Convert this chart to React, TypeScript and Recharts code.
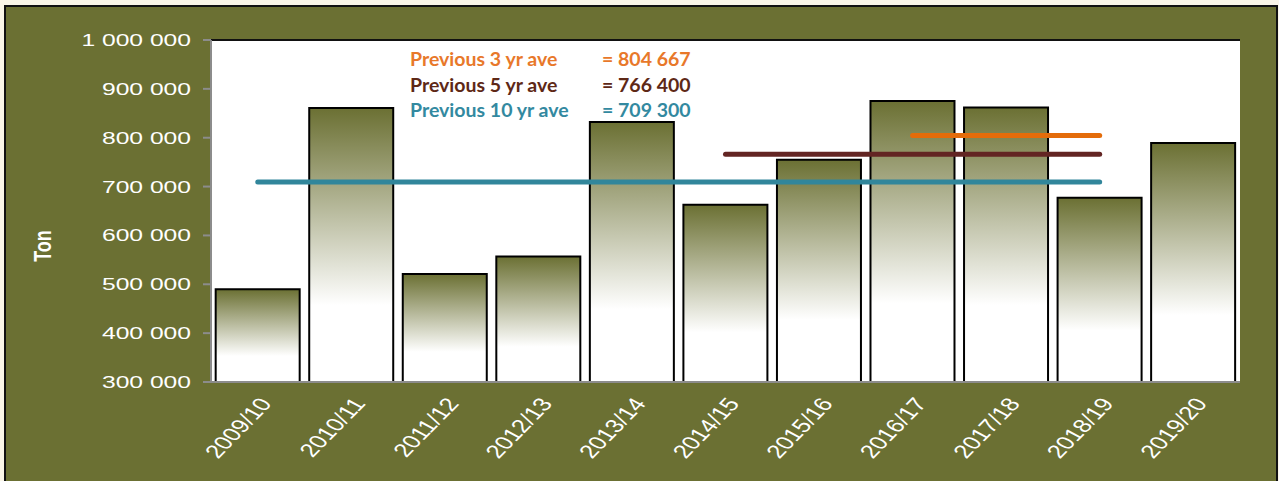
import {
  Bar,
  BarChart,
  CartesianGrid,
  Line,
  ReferenceLine,
  XAxis,
  YAxis,
} from "recharts";

const seasons = [
  "2009/10",
  "2010/11",
  "2011/12",
  "2012/13",
  "2013/14",
  "2014/15",
  "2015/16",
  "2016/17",
  "2017/18",
  "2018/19",
  "2019/20",
];
const tons = [
  490000, 861000, 521000, 557000, 832000, 663000, 755000, 875000, 862000,
  677000, 789000,
];
const avg10 = [709300, 709300, 709300, 709300, 709300, 709300, 709300, 709300, 709300, 709300, null];
const avg5 = [null, null, null, null, null, 766400, 766400, 766400, 766400, 766400, null];
const avg3 = [null, null, null, null, null, null, null, 804667, 804667, 804667, null];
const yTicks = [300000, 400000, 500000, 600000, 700000, 800000, 900000, 1000000];

const legendRows = [
  { label: "Previous 3 yr ave", value: "= 804 667", color: "#e8782a" },
  { label: "Previous 5 yr ave", value: "= 766 400", color: "#5e2816" },
  { label: "Previous 10 yr ave", value: "= 709 300", color: "#3389a0" },
];

const data = seasons.map((s, i) => ({
  season: s,
  tons: tons[i],
  avg10: avg10[i],
  avg5: avg5[i],
  avg3: avg3[i],
}));

const OLIVE = "#6b7033";
const STRETCH = 1.36;

const fmt = (v: number) => String(v).replace(/\B(?=(\d{3})+(?!\d))/g, " ");

const YTick = ({ x, y, payload }: any) => (
  <g transform={`translate(${x - 10},${y + 6})`}>
    <text
      transform="scale(1.45,1)"
      textAnchor="end"
      fill="#fff"
      fontSize={17}
      fontFamily="Liberation Sans, Arial, sans-serif"
    >
      {fmt(payload.value)}
    </text>
  </g>
);

const XTick = ({ x, y, payload }: any) => (
  <g transform={`translate(${x + 15},${y + 14})`}>
    <text
      transform={`scale(${STRETCH},1) rotate(-54)`}
      textAnchor="end"
      fill="#fff"
      fontSize={19}
      fontFamily="Liberation Sans, Arial, sans-serif"
    >
      {payload.value}
    </text>
  </g>
);

const TonLabel = ({ viewBox }: any) => (
  <g transform={`translate(${viewBox.x - 80},${viewBox.y + viewBox.height / 2 + 35})`}>
    <text
      transform={`scale(${STRETCH},1) rotate(-90)`}
      textAnchor="middle"
      fill="#fff"
      fontSize={18}
      fontWeight="bold"
      fontFamily="Liberation Sans, Arial, sans-serif"
    >
      Ton
    </text>
  </g>
);

export default function App() {
  return (
    <div
      style={{
        position: "absolute",
        left: 0,
        top: 0,
        width: 1279,
        height: 481,
        background: "#faf6e8",
        overflow: "hidden",
      }}
    >
      <div
        style={{
          position: "absolute",
          left: 4,
          top: 5,
          width: 1270,
          height: 480,
          background: OLIVE,
          borderLeft: "2px solid #111",
          borderTop: "2px solid #111",
          borderRight: "2px solid #111",
        }}
      />
      <div style={{ position: "absolute", left: 0, top: 0 }}>
        <BarChart
          width={1279}
          height={481}
          data={data}
          margin={{ top: 40, right: 39, bottom: 9, left: 131 }}
          barCategoryGap="5%"
        >
          <defs>
            <linearGradient id="barFill" x1="0" y1="0" x2="0" y2="1">
              <stop offset="0" stopColor={OLIVE} />
              <stop offset="0.72" stopColor="#ffffff" />
              <stop offset="1" stopColor="#ffffff" />
            </linearGradient>
          </defs>
          <CartesianGrid fill="#ffffff" horizontal={false} vertical={false} yAxisId="left" />
          <XAxis
            dataKey="season"
            height={90}
            interval={0}
            tickLine={false}
            axisLine={{ stroke: "#8c8c8c", strokeWidth: 2 }}
            tick={<XTick />}
          />
          <YAxis
            yAxisId="left"
            width={80}
            domain={[300000, 1000000]}
            ticks={yTicks}
            allowDataOverflow
            tickSize={8}
            tickLine={{ stroke: "#8c8c8c", strokeWidth: 2 }}
            axisLine={{ stroke: "#8c8c8c", strokeWidth: 2 }}
            tick={<YTick />}
            label={<TonLabel />}
          />
          <YAxis
            yAxisId="right"
            orientation="right"
            width={0}
            tick={false}
            tickLine={false}
            axisLine={{ stroke: "#111", strokeWidth: 2 }}
          />
          <ReferenceLine yAxisId="left" y={1000000} stroke="#111" strokeWidth={2} />
          <Bar
            yAxisId="left"
            dataKey="tons"
            fill="url(#barFill)"
            stroke="#000"
            strokeWidth={2}
            isAnimationActive={false}
          />
          <Line
            yAxisId="left"
            dataKey="avg10"
            stroke="#31869b"
            strokeWidth={5}
            strokeLinecap="round"
            dot={false}
            activeDot={false}
            isAnimationActive={false}
          />
          <Line
            yAxisId="left"
            dataKey="avg5"
            stroke="#632523"
            strokeWidth={5}
            strokeLinecap="round"
            dot={false}
            activeDot={false}
            isAnimationActive={false}
          />
          <Line
            yAxisId="left"
            dataKey="avg3"
            stroke="#e46c0a"
            strokeWidth={5}
            strokeLinecap="round"
            dot={false}
            activeDot={false}
            isAnimationActive={false}
          />
        </BarChart>
      </div>
      {legendRows.map((r, i) => (
        <div
          key={r.label}
          style={{
            position: "absolute",
            left: 410,
            top: 47 + i * 25.5,
            color: r.color,
            fontFamily: "Lato, sans-serif",
            fontWeight: "bold",
            fontSize: 19.5,
            lineHeight: "24px",
            whiteSpace: "nowrap",
          }}
        >
          <span>{r.label}</span>
          <span style={{ position: "absolute", left: 192 }}>{r.value}</span>
        </div>
      ))}
    </div>
  );
}
